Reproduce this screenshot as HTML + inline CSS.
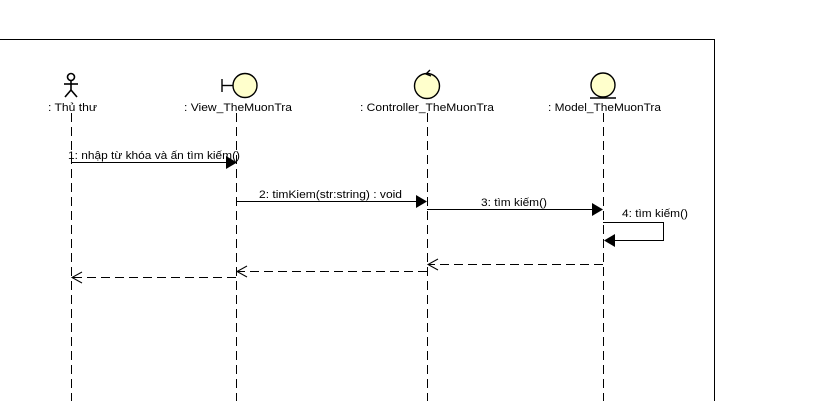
<!DOCTYPE html>
<html><head><style>
body{margin:0;background:#fff;}
svg text{font-family:"Liberation Sans","DejaVu Sans",sans-serif;font-size:11px;fill:#000;}
</style></head><body>
<svg width="824" height="401" viewBox="0 0 824 401" xmlns="http://www.w3.org/2000/svg">
<rect width="824" height="401" fill="#fff"/>
<path d="M0 39.5H714.5V401" fill="none" stroke="#000"/>
<g stroke="#000" stroke-dasharray="9,5" fill="none">
<line x1="71.5" y1="113" x2="71.5" y2="401"/>
<line x1="236.5" y1="113" x2="236.5" y2="401"/>
<line x1="427.5" y1="113" x2="427.5" y2="401"/>
<line x1="603.5" y1="113" x2="603.5" y2="401"/>
</g>
<g stroke="#000" fill="none" stroke-width="1.6">
<circle cx="71" cy="77" r="3.5"/>
<line x1="71" y1="80.5" x2="71" y2="90"/>
<line x1="64" y1="84" x2="78" y2="84"/>
<line x1="71" y1="90" x2="65" y2="97"/>
<line x1="71" y1="90" x2="77" y2="97"/>
</g>
<g stroke="#000" stroke-width="1.4">
<line x1="222" y1="79" x2="222" y2="92"/>
<line x1="222" y1="85.5" x2="233" y2="85.5"/>
<circle cx="245" cy="85.5" r="12" fill="#ffffcc"/>
</g>
<g stroke="#000" stroke-width="1.4">
<circle cx="427" cy="86" r="12.5" fill="#ffffcc"/>
<path d="M430 70 L426 74 L431 76" fill="none"/>
</g>
<g stroke="#000" stroke-width="1.4">
<circle cx="603" cy="85" r="12" fill="#ffffcc"/>
<line x1="590" y1="98" x2="616" y2="98"/>
</g>
<text x="48" y="111" textLength="49" lengthAdjust="spacingAndGlyphs">: Thủ thư</text>
<text x="184" y="111" textLength="108" lengthAdjust="spacingAndGlyphs">: View_TheMuonTra</text>
<text x="360" y="111" textLength="134" lengthAdjust="spacingAndGlyphs">: Controller_TheMuonTra</text>
<text x="548" y="111" textLength="113" lengthAdjust="spacingAndGlyphs">: Model_TheMuonTra</text>
<g stroke="#000">
<line x1="71" y1="162.5" x2="226" y2="162.5"/>
<line x1="236" y1="201.5" x2="417" y2="201.5"/>
<line x1="427" y1="209.5" x2="593" y2="209.5"/>
<path d="M603 222.5H663.5V240.5H612" fill="none"/>
</g>
<g fill="#000">
<polygon points="226,156 237,162.5 226,169"/>
<polygon points="416,195 427,201.5 416,208"/>
<polygon points="592,203 603,209.5 592,216"/>
<polygon points="615,234 604,240.5 615,247"/>
</g>
<text x="68" y="159" textLength="172" lengthAdjust="spacingAndGlyphs">1: nhập từ khóa và ấn tìm kiếm()</text>
<text x="259" y="198" textLength="143" lengthAdjust="spacingAndGlyphs">2: timKiem(str:string) : void</text>
<text x="481" y="206" textLength="66" lengthAdjust="spacingAndGlyphs">3: tìm kiếm()</text>
<text x="622" y="217" textLength="66" lengthAdjust="spacingAndGlyphs">4: tìm kiếm()</text>
<g stroke="#000" fill="none">
<line x1="603" y1="264.5" x2="428" y2="264.5" stroke-dasharray="9,5"/>
<path d="M438 259L428 264.5L438 270"/>
<line x1="427" y1="271.5" x2="237" y2="271.5" stroke-dasharray="9,5"/>
<path d="M247 266L237 271.5L247 277"/>
<line x1="236" y1="277.5" x2="72" y2="277.5" stroke-dasharray="9,5"/>
<path d="M82 272L72 277.5L82 283"/>
</g>
</svg>
</body></html>
